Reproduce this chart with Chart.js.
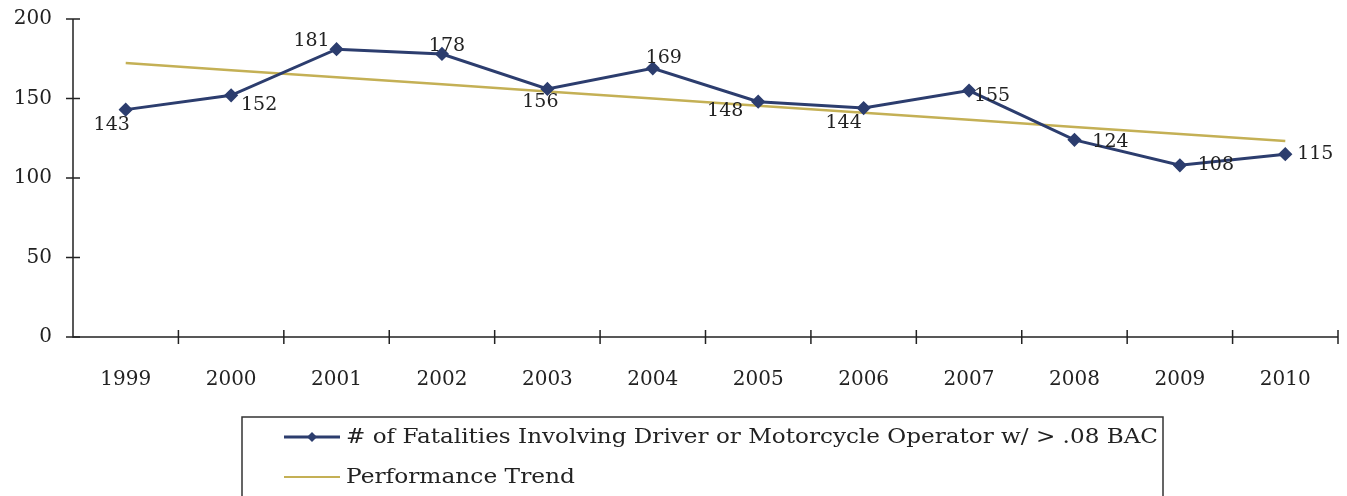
<!DOCTYPE html>
<html>
<head>
<meta charset="utf-8">
<script src="https://cdn.jsdelivr.net/npm/chart.js@4"></script>
<style>
  html, body { margin: 0; padding: 0; background: #fff; }
  #wrap { width: 1347px; height: 496px; }
</style>
</head>
<body>
<div id="wrap"><canvas id="chart" width="1347" height="496"></canvas></div>
<script>
const years = ['1999', '2000', '2001', '2002', '2003', '2004', '2005', '2006', '2007', '2008', '2009', '2010'];
const fatalities = [143, 152, 181, 178, 156, 169, 148, 144, 155, 124, 108, 115];
const trend = [172.3, 167.8, 163.4, 158.9, 154.4, 150.0, 145.5, 141.1, 136.6, 132.1, 127.7, 123.2];
const yTicks = [0, 50, 100, 150, 200];

const seriesName = '# of Fatalities Involving Driver or Motorcycle Operator w/ > .08 BAC';
const trendName = 'Performance Trend';

// where each value label sits, relative to its point
const labelOffsets = [[-14, 15], [28, 10], [-25, -8], [5, -8], [-7, 13], [11, -10],
                      [-33, 9], [-20, 15], [23, 6], [36, 2], [36, 0], [30, 0]];

const navy = '#2c3d6e';
const gold = '#c4b055';
const serif = '"DejaVu Serif", "Liberation Serif", serif';

// axes with ticks crossing the line, like the original
const axisPlugin = {
    id: 'axisLines',
    afterDraw(chart) {
        const c = chart.ctx;
        const x = chart.scales.x, y = chart.scales.y;
        c.save();
        c.strokeStyle = '#222';
        c.lineWidth = 1.5;
        c.beginPath();
        c.moveTo(x.left, y.top);
        c.lineTo(x.left, y.bottom);
        c.lineTo(x.right, y.bottom);
        c.stroke();
        yTicks.forEach(v => {
            const py = y.getPixelForValue(v);
            c.beginPath();
            c.moveTo(x.left - 7, py);
            c.lineTo(x.left + 7, py);
            c.stroke();
        });
        const step = (x.right - x.left) / years.length;
        for (let i = 1; i <= years.length; i++) {
            const px = x.left + i * step;
            c.beginPath();
            c.moveTo(px, y.bottom - 7);
            c.lineTo(px, y.bottom + 7);
            c.stroke();
        }
        c.restore();
    }
};

const labelPlugin = {
    id: 'valueLabels',
    afterDatasetsDraw(chart) {
        const c = chart.ctx;
        const meta = chart.getDatasetMeta(0);
        c.save();
        c.font = '19px ' + serif;
        c.fillStyle = '#222';
        c.textAlign = 'center';
        c.textBaseline = 'middle';
        meta.data.forEach((pt, i) => {
            const off = labelOffsets[i];
            c.fillText(String(fatalities[i]), pt.x + off[0], pt.y + off[1]);
        });
        c.restore();
    }
};

// text squeezed/stretched to the width it has in the original
function fitText(c, txt, x, y, w) {
    const m = c.measureText(txt).width;
    c.save();
    c.translate(x, y);
    c.scale(w / m, 1);
    c.fillText(txt, 0, 0);
    c.restore();
}

const legendPlugin = {
    id: 'boxLegend',
    afterDraw(chart) {
        const c = chart.ctx;
        c.save();
        c.strokeStyle = '#333';
        c.lineWidth = 1.5;
        c.strokeRect(242, 417, 921, 90);
        // series line with marker
        c.strokeStyle = navy;
        c.lineWidth = 3;
        c.beginPath();
        c.moveTo(284, 437);
        c.lineTo(340, 437);
        c.stroke();
        c.fillStyle = navy;
        c.beginPath();
        c.moveTo(312, 432);
        c.lineTo(317, 437);
        c.lineTo(312, 442);
        c.lineTo(307, 437);
        c.closePath();
        c.fill();
        // trend line
        c.strokeStyle = gold;
        c.lineWidth = 2;
        c.beginPath();
        c.moveTo(284, 477);
        c.lineTo(340, 477);
        c.stroke();
        c.fillStyle = '#222';
        c.font = '20px ' + serif;
        c.textBaseline = 'middle';
        fitText(c, seriesName, 346, 438, 812);
        fitText(c, trendName, 346, 478, 229);
        c.restore();
    }
};

new Chart(document.getElementById('chart'), {
    type: 'line',
    data: {
        labels: years,
        datasets: [{
            label: seriesName,
            data: fatalities,
            borderColor: navy,
            backgroundColor: navy,
            borderWidth: 3,
            pointStyle: 'rectRot',
            pointRadius: 5,
            tension: 0
        }, {
            label: trendName,
            data: trend,
            borderColor: gold,
            borderWidth: 2.5,
            pointRadius: 0,
            tension: 0
        }]
    },
    options: {
        responsive: false,
        animation: false,
        layout: { padding: { top: 19, right: 9, left: 0, bottom: 0 } },
        scales: {
            x: {
                offset: true,
                grid: { display: false, drawTicks: false },
                border: { display: false },
                ticks: { color: '#222', padding: 31, font: { family: serif, size: 20 } },
                afterFit: s => { s.height = 159; s.paddingLeft = 0; s.paddingRight = 0; }
            },
            y: {
                min: 0,
                max: 200,
                grid: { display: false, drawTicks: false },
                border: { display: false },
                ticks: { stepSize: 50, color: '#222', padding: 21, font: { family: serif, size: 20 } },
                afterFit: s => { s.width = 73; s.paddingTop = 0; s.paddingBottom = 0; }
            }
        },
        plugins: {
            legend: { display: false },
            tooltip: { enabled: false }
        }
    },
    plugins: [axisPlugin, labelPlugin, legendPlugin]
});
</script>
</body>
</html>
